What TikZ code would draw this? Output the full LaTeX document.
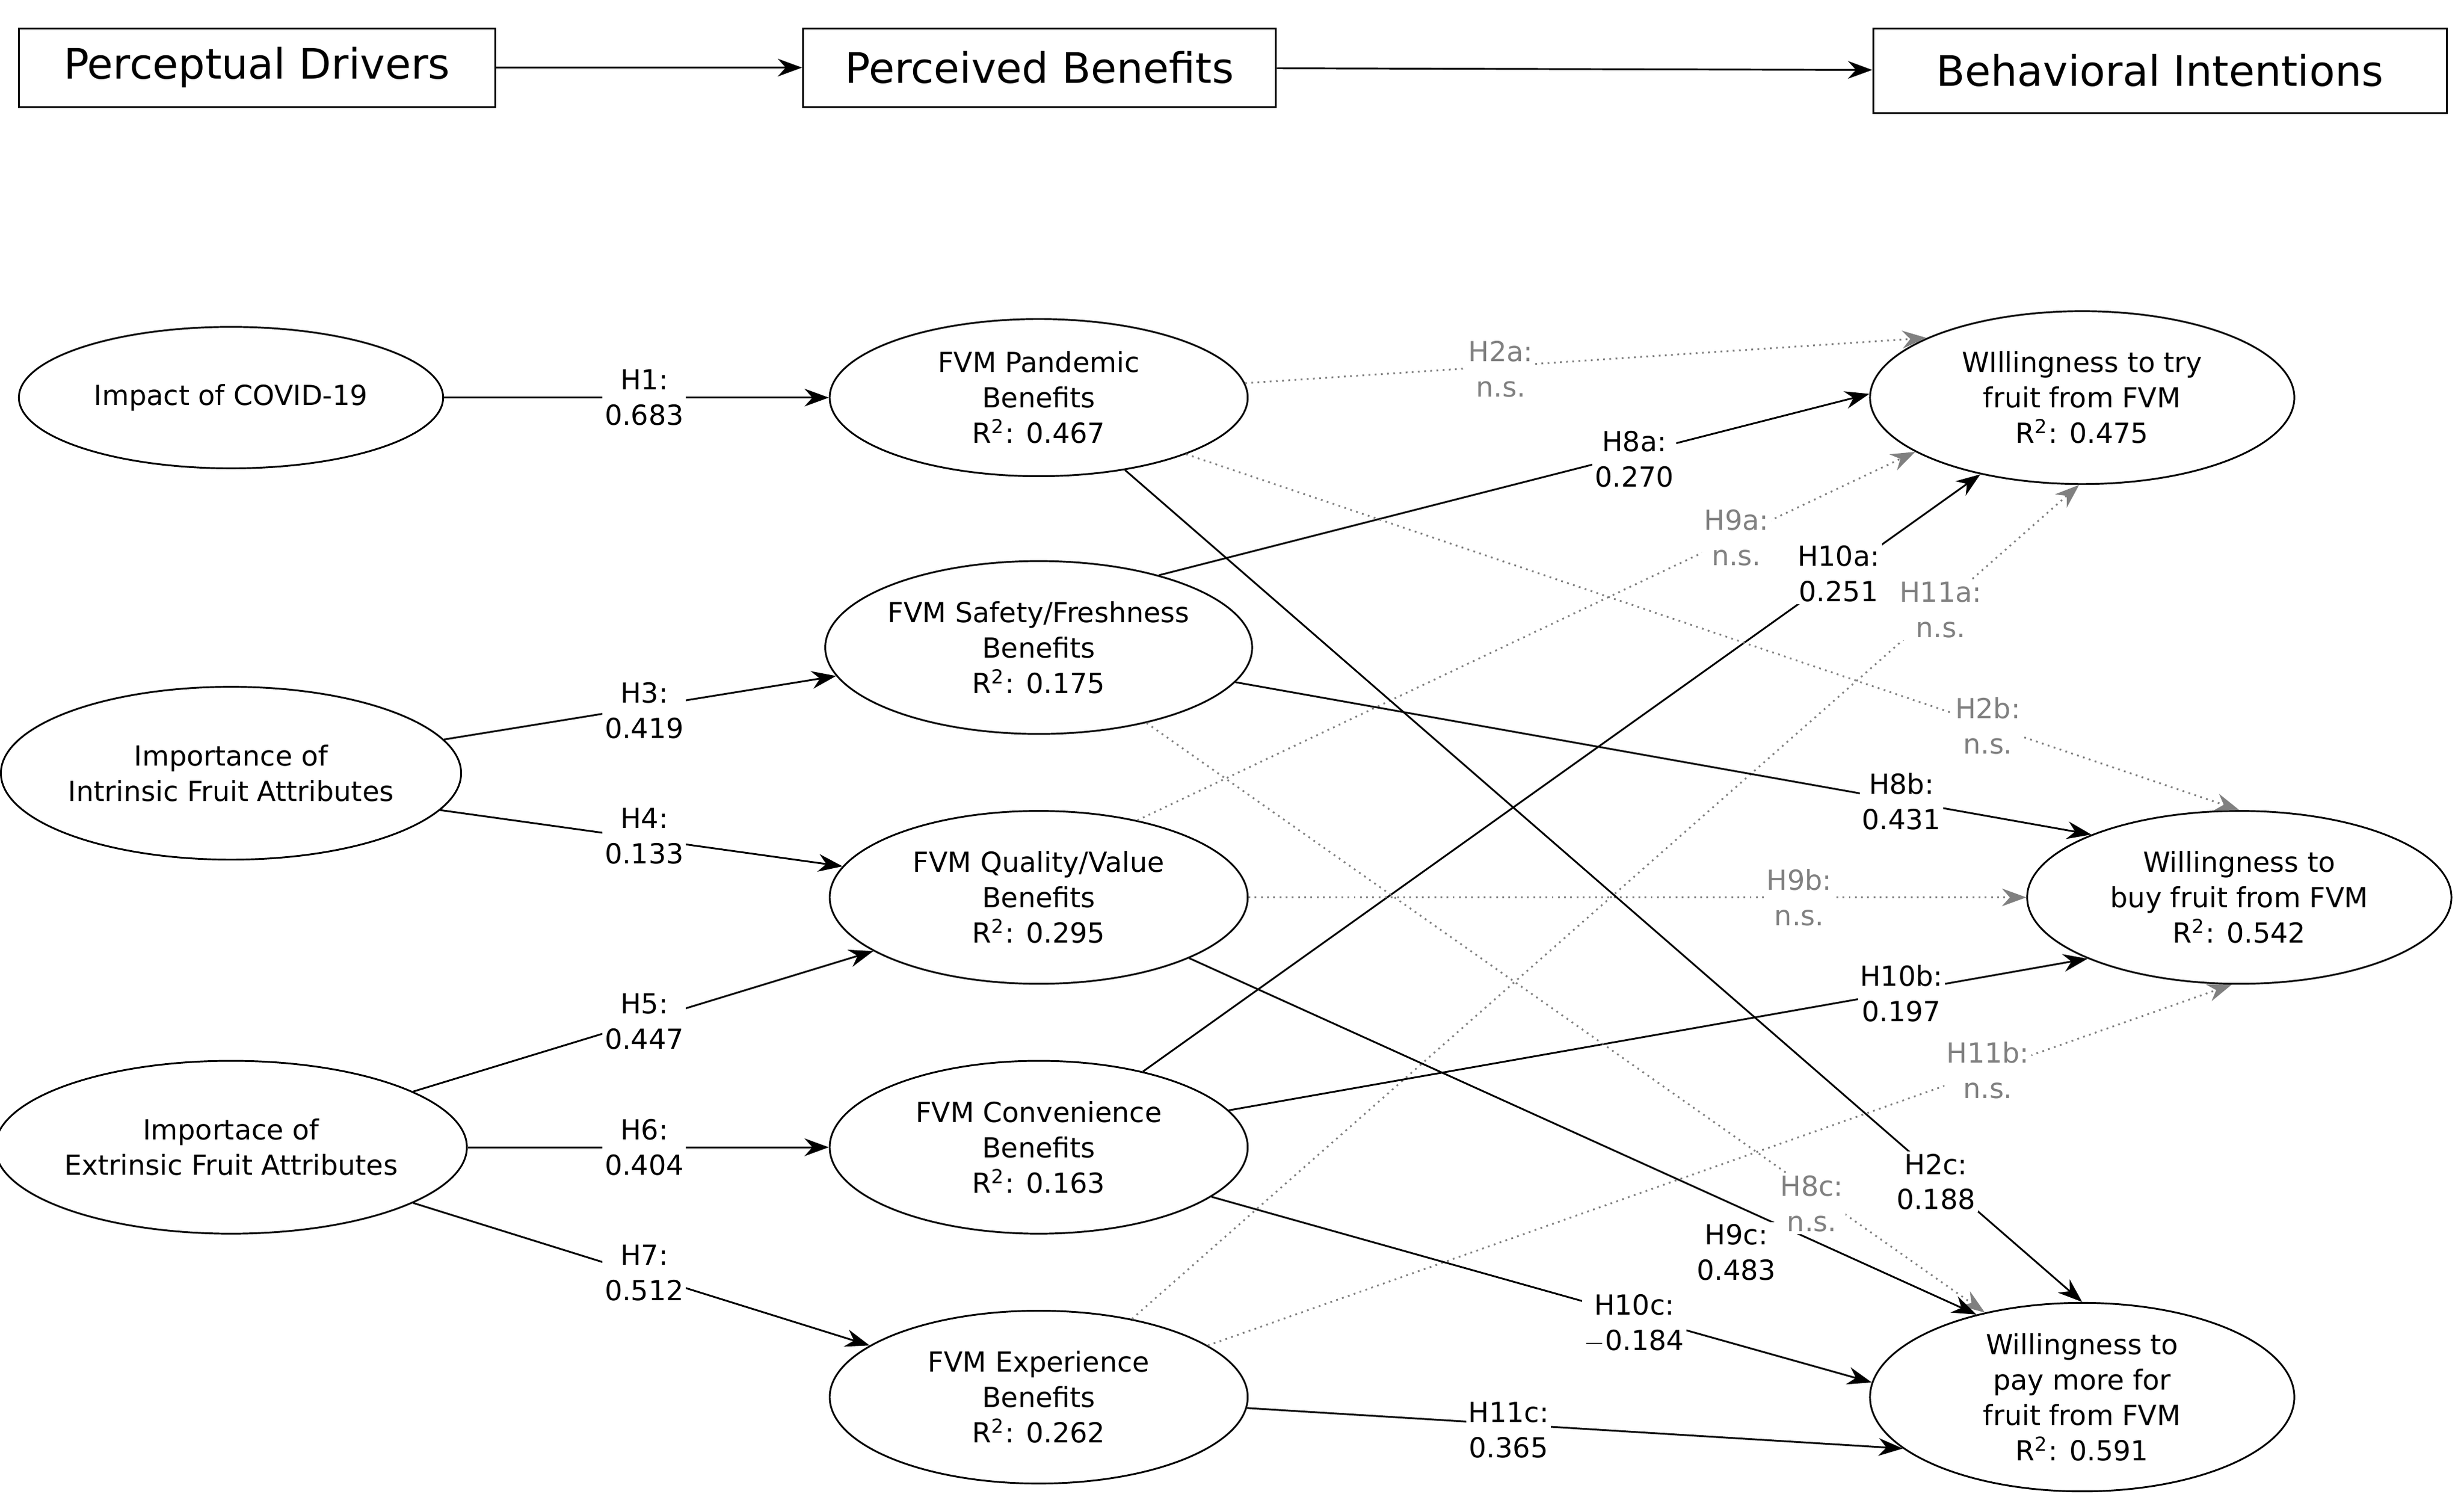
\documentclass[tikz,border=0pt]{standalone}
\usepackage{fontspec}
\setmainfont{DejaVu Sans}
\usetikzlibrary{arrows.meta,shapes.geometric}
\begin{document}
\begin{tikzpicture}[x=0.025cm,y=-0.025cm,
  el/.style={draw,thick,ellipse,align=center,font=\fontsize{12.5}{16}\selectfont,inner sep=0pt},
  hd/.style={draw,thick,font=\fontsize{19}{22}\selectfont,inner sep=0pt},
  ar/.style={thick,-{Stealth[length=11pt,width=8pt]}},
  ns/.style={ar,dotted,thick},
  lb/.style={fill=white,align=center,inner sep=1pt,font=\fontsize{12.5}{16}\selectfont},
  lg/.style={lb,text=gray}]
\useasboundingbox (0,0) rectangle (1568,956);
% headers
\node[hd,minimum width=303*0.025cm,minimum height=50*0.025cm] (h1) at (163.5,43) {Perceptual Drivers};
\node[hd,minimum width=301*0.025cm,minimum height=50*0.025cm] (h2) at (661.5,43) {Perceived Benefits};
\node[hd,minimum width=365*0.025cm,minimum height=54*0.025cm] (h3) at (1374.5,45) {Behavioral Intentions};
\draw[ar] (h1) -- (h2);
\draw[ar] (h2) -- (h3);
% ellipses
\node[el,minimum width=270*0.025cm,minimum height=90*0.025cm] (imp) at (147,253) {Impact of COVID-19};
\node[el,minimum width=270*0.025cm,minimum height=110*0.025cm] (intr) at (147,492) {Importance of\\Intrinsic Fruit Attributes};
\node[el,minimum width=270*0.025cm,minimum height=110*0.025cm] (extr) at (147,730) {Importace of\\Extrinsic Fruit Attributes};
\node[el,minimum width=266*0.025cm,minimum height=100*0.025cm] (pand) at (661,253) {FVM Pandemic\\Benefits\\R\textsuperscript{2}: 0.467};
\node[el,minimum width=266*0.025cm,minimum height=110*0.025cm] (saf) at (661,412) {FVM Safety/Freshness\\Benefits\\R\textsuperscript{2}: 0.175};
\node[el,minimum width=266*0.025cm,minimum height=110*0.025cm] (qual) at (661,571) {FVM Quality/Value\\Benefits\\R\textsuperscript{2}: 0.295};
\node[el,minimum width=266*0.025cm,minimum height=110*0.025cm] (conv) at (661,730) {FVM Convenience\\Benefits\\R\textsuperscript{2}: 0.163};
\node[el,minimum width=266*0.025cm,minimum height=110*0.025cm] (exp) at (661,889) {FVM Experience\\Benefits\\R\textsuperscript{2}: 0.262};
\node[el,minimum width=270*0.025cm,minimum height=110*0.025cm] (try) at (1325,253) {WIllingness to try\\fruit from FVM\\R\textsuperscript{2}: 0.475};
\node[el,minimum width=270*0.025cm,minimum height=110*0.025cm] (buy) at (1425,571) {Willingness to\\buy fruit from FVM\\R\textsuperscript{2}: 0.542};
\node[el,minimum width=270*0.025cm,minimum height=120*0.025cm] (pay) at (1325,889) {Willingness to\\pay more for\\fruit from FVM\\R\textsuperscript{2}: 0.591};
% left edges
\draw[ar] (imp) -- (pand);
\draw[ar] (intr.9) -- (saf.188);
\draw[ar] (intr.350) -- (qual.171);
\draw[ar] (extr.17) -- (qual.198);
\draw[ar] (extr) -- (conv);
\draw[ar] (extr.343) -- (exp.163);
\node[lb] (l1) at (410,253) {H1:\\0.683};
\node[lb] (l3) at (410,452) {H3:\\0.419};
\node[lb] (l4) at (410,532) {H4:\\0.133};
\node[lb] (l5) at (410,650) {H5:\\0.447};
\node[lb] (l6) at (410,730) {H6:\\0.404};
\node[lb] (l7) at (410,810) {H7:\\0.512};
% right edges
\draw[ns,gray] (pand.4) -- (try.159);
\draw[ar] (saf.31) -- (try.179);
\draw[ns,gray] (qual.38) -- (try.198);
\draw[ar] (conv.36) -- (try.217);
\draw[ns,gray] (exp.40) -- (try.268);
\draw[ns,gray] (pand.339) -- (buy.90);
\draw[ar] (saf.350) -- (buy.157);
\draw[ns,gray] (qual) -- (buy);
\draw[ar] (conv.11) -- (buy.202);
\draw[ns,gray] (exp.17) -- (buy.265);
\draw[ar] (pand.320) -- (pay.90);
\draw[ns,gray] (saf.325) -- (pay.139);
\draw[ar] (qual.338) -- (pay.142);
\draw[ar] (conv.344) -- (pay.176);
\draw[ar] (exp.357) -- (pay.196);
\node[lg] (l2a) at (955,235) {H2a:\\n.s.};
\node[lb] (l8a) at (1040,292) {H8a:\\0.270};
\node[lg] (l9a) at (1105,342) {H9a:\\n.s.};
\node[lb] (l10a) at (1170,365) {H10a:\\0.251};
\node[lg] (l11a) at (1235,388) {H11a:\\n.s.};
\node[lg] (l2b) at (1265,462) {H2b:\\n.s.};
\node[lb] (l8b) at (1210,510) {H8b:\\0.431};
\node[lg] (l9b) at (1145,571) {H9b:\\n.s.};
\node[lb] (l10b) at (1210,632) {H10b:\\0.197};
\node[lg] (l11b) at (1265,681) {H11b:\\n.s.};
\node[lb] (l2c) at (1232,752) {H2c:\\0.188};
\node[lg] (l8c) at (1153,766) {H8c:\\n.s.};
\node[lb] (l9c) at (1105,797) {H9c:\\0.483};
\node[lb] (l10c) at (1040,842) {H10c:\\$-$0.184};
\node[lb] (l11c) at (960,910) {H11c:\\0.365};
\end{tikzpicture}
\end{document}
